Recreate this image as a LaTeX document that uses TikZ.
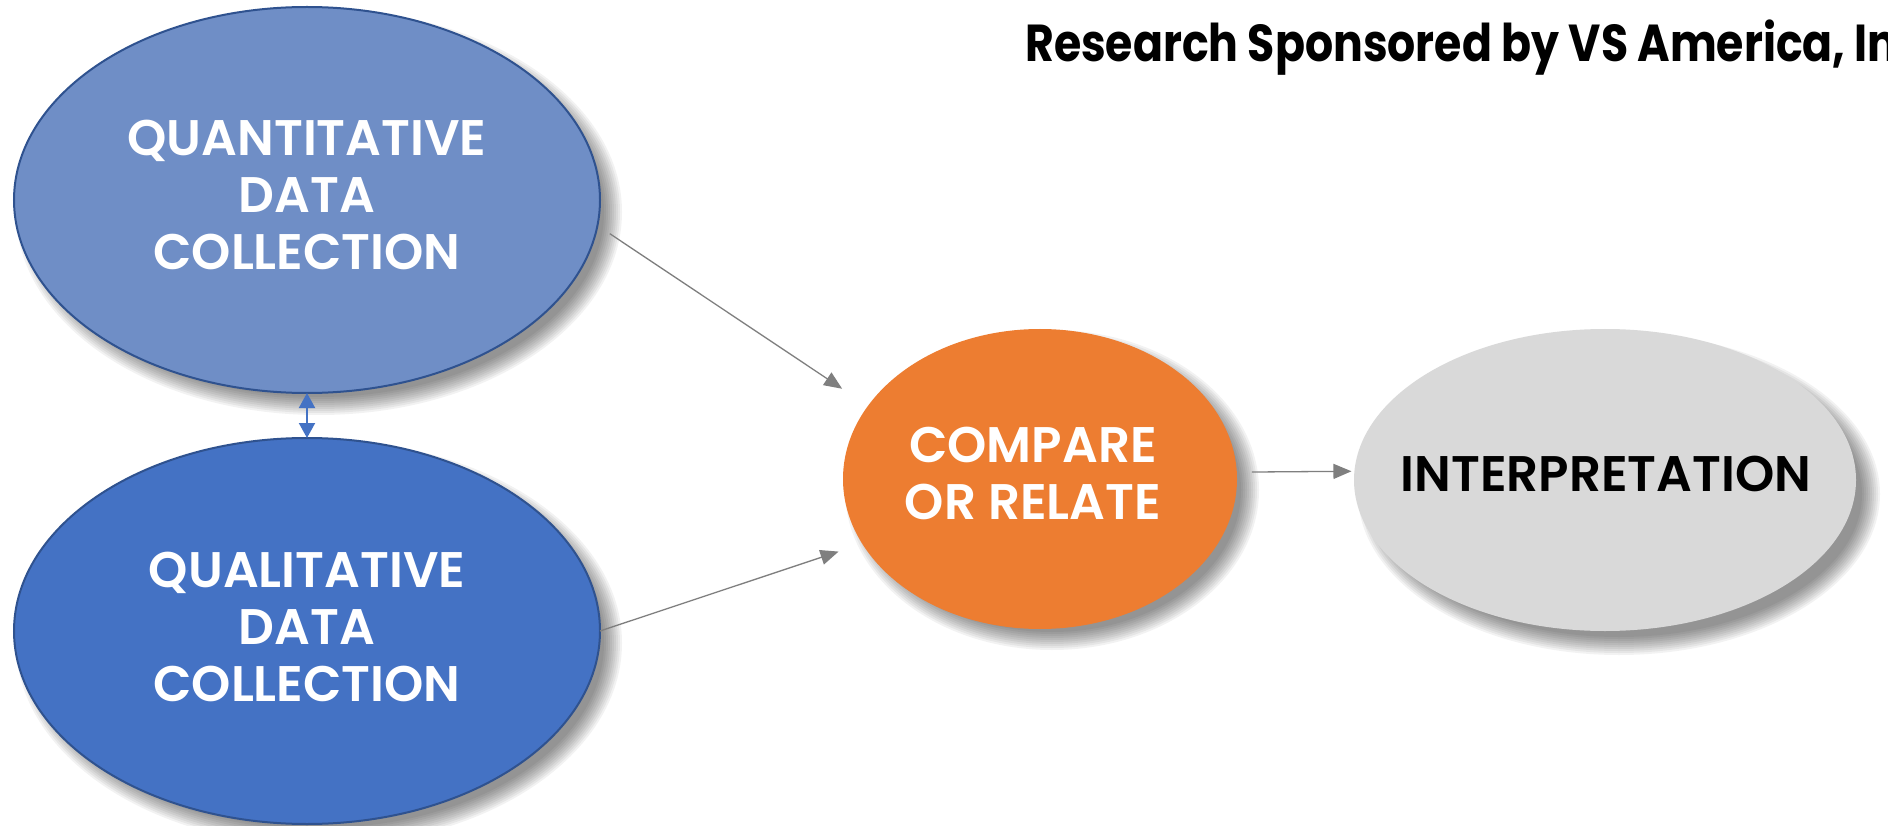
\documentclass[tikz,border=0pt]{standalone}
\usepackage{fontspec}
\setmainfont{Poppins}[BoldFont={Poppins SemiBold}]
\newfontfamily\titlefont{Poppins Bold}[FakeStretch=0.85]
\usetikzlibrary{arrows.meta,shapes.geometric,calc}
\definecolor{quantC}{HTML}{6F8EC6}
\definecolor{qualC}{HTML}{4472C4}
\definecolor{rimC}{HTML}{2F528F}
\definecolor{orangeC}{HTML}{ED7D31}
\definecolor{greyC}{HTML}{D9D9D9}
\definecolor{arrC}{HTML}{7F7F7F}
\tikzset{
  bubble/.style={ellipse, inner sep=0pt, outer sep=0pt},
  rimmed/.style={draw=rimC, line width=2pt},
  lbl/.style={align=center, inner sep=0pt, text=white,
    font=\bfseries\fontsize{50}{57}\selectfont},
  flow/.style={draw=arrC, line width=1.3pt, -{Triangle[length=18pt,width=15pt]}},
  link/.style={draw=qualC, line width=2pt, {Triangle[length=15pt,width=16pt]}-{Triangle[length=15pt,width=16pt]}},
}
\newcommand\softshadow[4]{%
  \foreach \k in {0,...,9}{%
    \fill[black, opacity=0.05] (#1,#2) ellipse [x radius={#3+10-2*\k}, y radius={#4+10-2*\k}];
  }}
\begin{document}
\begin{tikzpicture}[x=1pt,y=-1pt]
\useasboundingbox (0,0) rectangle (1888,826);
\clip (0,0) rectangle (1888,826);
\fill[white] (0,0) rectangle (1888,826);
% shadows
\softshadow{319}{212}{293}{193}
\softshadow{319}{643}{293}{193}
\softshadow{1052}{490}{197}{150}
\softshadow{1619}{494}{251}{151}
% bubbles
\node[bubble, rimmed, fill=quantC, minimum width=586pt, minimum height=386pt] (quant) at (307,200) {};
\node[bubble, rimmed, fill=qualC, minimum width=586pt, minimum height=386pt] (qual) at (307,631) {};
\node[bubble, fill=orangeC, minimum width=394pt, minimum height=300pt] (comp) at (1040,479) {};
\node[bubble, fill=greyC, minimum width=502pt, minimum height=302pt] (interp) at (1605,480) {};
% labels
\node[lbl] (quantT) at (307,195) {QUANTITATIVE\\DATA\\COLLECTION};
\node[lbl] (qualT) at (307,627) {QUALITATIVE\\DATA\\COLLECTION};
\node[lbl] (compT) at (1033,473) {COMPARE\\OR RELATE};
\node[lbl, text=black] (interpT) at (1606,474) {INTERPRETATION};
\node[anchor=base west, inner sep=0pt, font=\titlefont\fontsize{52}{52}\selectfont] (title) at (1025,62) {Research Sponsored by VS America, Inc.};
% connectors
\draw[flow, shorten <=14.8pt, shorten >=31pt] (quant.-5.7) -- (comp.157.9);
\draw[flow, shorten >=25pt] (qual.east) -- (comp.200.65);
\draw[flow, shorten <=15pt, shorten >=3pt] (comp.2) -- (interp.178);
\draw[link] (quant.south) -- (qual.north);
\end{tikzpicture}
\end{document}
